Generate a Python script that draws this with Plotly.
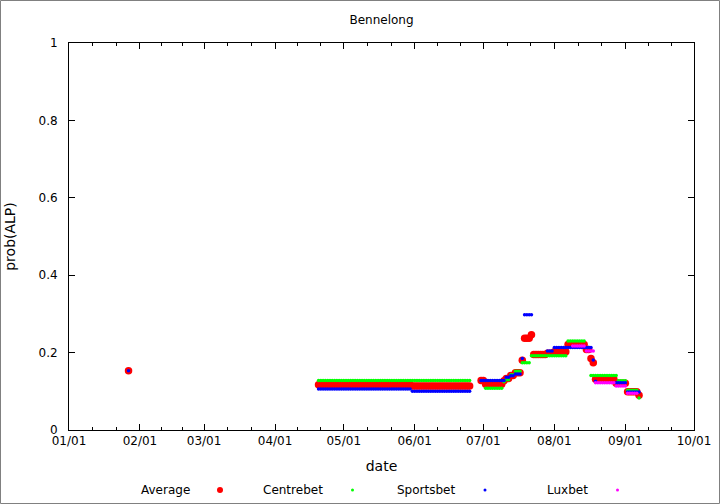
import pandas as pd
import plotly.graph_objects as go

# Series are read off the reference as runs of constant probability:
# each run is (first day, last day, prob(ALP)), one point per day
avg_start = ["2013-01-27", "2013-04-20", "2013-05-31", "2013-06-30", "2013-07-02", "2013-07-10",
             "2013-07-11", "2013-07-13", "2013-07-15", "2013-07-18", "2013-07-19", "2013-07-22",
             "2013-07-23", "2013-07-29", "2013-08-01", "2013-08-07", "2013-08-15", "2013-08-17",
             "2013-08-18", "2013-08-19", "2013-08-28", "2013-09-02", "2013-09-07"]
avg_end = ["2013-01-27", "2013-05-30", "2013-06-25", "2013-07-01", "2013-07-09", "2013-07-10",
           "2013-07-12", "2013-07-14", "2013-07-17", "2013-07-18", "2013-07-21", "2013-07-22",
           "2013-07-28", "2013-07-31", "2013-08-06", "2013-08-14", "2013-08-16", "2013-08-17",
           "2013-08-18", "2013-08-27", "2013-09-01", "2013-09-06", "2013-09-07"]
avg_prob = [0.153, 0.117, 0.114, 0.128, 0.118, 0.127,
            0.133, 0.141, 0.148, 0.180, 0.237, 0.246,
            0.195, 0.198, 0.202, 0.221, 0.208, 0.185,
            0.174, 0.131, 0.121, 0.099, 0.090]

centrebet_start = ["2013-04-20", "2013-07-02", "2013-07-10", "2013-07-11", "2013-07-13", "2013-07-15",
                   "2013-07-18", "2013-07-22", "2013-08-07", "2013-08-17", "2013-08-29", "2013-09-02",
                   "2013-09-07"]
centrebet_end = ["2013-06-25", "2013-07-09", "2013-07-10", "2013-07-12", "2013-07-14", "2013-07-17",
                 "2013-07-21", "2013-08-06", "2013-08-14", "2013-08-28", "2013-09-01", "2013-09-06",
                 "2013-09-07"]
centrebet_prob = [0.128, 0.108, 0.125, 0.130, 0.143, 0.152,
                  0.174, 0.192, 0.230, 0.141, 0.127, 0.103,
                  0.083]

sportsbet_start = ["2013-01-27", "2013-04-20", "2013-05-31", "2013-06-30", "2013-07-11", "2013-07-13",
                   "2013-07-15", "2013-07-18", "2013-07-19", "2013-07-29", "2013-08-01", "2013-08-18",
                   "2013-08-19", "2013-08-28", "2013-09-02"]
sportsbet_end = ["2013-01-27", "2013-05-30", "2013-06-25", "2013-07-10", "2013-07-12", "2013-07-14",
                 "2013-07-17", "2013-07-18", "2013-07-22", "2013-07-31", "2013-08-17", "2013-08-18",
                 "2013-08-19", "2013-09-01", "2013-09-07"]
sportsbet_prob = [0.153, 0.106, 0.100, 0.128, 0.136, 0.140,
                  0.145, 0.185, 0.298, 0.204, 0.213, 0.181,
                  0.126, 0.122, 0.098]

luxbet_start = ["2013-08-09", "2013-08-15", "2013-08-19", "2013-08-28", "2013-09-02"]
luxbet_end = ["2013-08-14", "2013-08-18", "2013-08-27", "2013-09-01", "2013-09-06"]
luxbet_prob = [0.217, 0.204, 0.122, 0.114, 0.095]

series_names = ["Average", "Centrebet", "Sportsbet", "Luxbet"]
x_ticktext = ["01/01", "02/01", "03/01", "04/01", "05/01", "06/01", "07/01", "08/01", "09/01", "10/01"]


def expand_runs(starts, ends, probs):
    dates, values = [], []
    for s, e, p in zip(starts, ends, probs):
        for d in pd.date_range(s, e, freq="D"):
            dates.append(d)
            values.append(p)
    return dates, values


runs = [(avg_start, avg_end, avg_prob),
        (centrebet_start, centrebet_end, centrebet_prob),
        (sportsbet_start, sportsbet_end, sportsbet_prob),
        (luxbet_start, luxbet_end, luxbet_prob)]
colors = ["#ff0000", "#00ff00", "#0000ff", "#ff00ff"]
sizes = [7.5, 3.5, 3.5, 3.5]

fig = go.Figure()
for name, (s, e, p), color, size in zip(series_names, runs, colors, sizes):
    dates, values = expand_runs(s, e, p)
    fig.add_trace(go.Scatter(x=dates, y=values, mode="markers", name=name,
                             marker=dict(color=color, size=size, line=dict(width=0))))

# month ticks, with gnuplot style minor ticks at thirds of each month
months = pd.date_range("2013-01-01", "2013-10-01", freq="MS")
minor_vals = []
for a, b in zip(months[:-1], months[1:]):
    step = (b - a) / 3
    minor_vals += [a + step, a + 2 * step]

font = dict(family="DejaVu Sans, sans-serif", size=12, color="black")

fig.update_xaxes(
    range=["2013-01-01", "2013-10-01"],
    tickmode="array", tickvals=list(months), ticktext=x_ticktext,
    ticks="inside", ticklen=6, tickcolor="black", tickwidth=1,
    minor=dict(tickmode="array", tickvals=minor_vals, ticks="inside", ticklen=3,
               tickcolor="black", tickwidth=1),
    showline=True, linecolor="black", linewidth=1, mirror="allticks",
    showgrid=False, zeroline=False,
    title=dict(text="date", standoff=13), tickfont=font,
)
fig.update_yaxes(
    range=[0, 1], tickvals=[0, 0.2, 0.4, 0.6, 0.8, 1],
    ticks="inside", ticklen=6, tickcolor="black", tickwidth=1, ticklabelstandoff=8,
    showline=True, linecolor="black", linewidth=1, mirror="allticks",
    showgrid=False, zeroline=False,
    title=dict(text="prob(ALP)", standoff=19), tickfont=font,
)

# gnuplot style key under the plot: label first, then the marker
L, R, T, B = 69, 26, 43, 74
W, H = 720, 504
pw, ph = W - L - R, H - T - B
key_y = (H - B - 490) / ph
for i, (name, color) in enumerate(zip(series_names, colors)):
    text_x = (192 + 132.5 * i - L) / pw
    dot_x = (220 + 132.5 * i - L) / pw
    r = 3 if i == 0 else 1.5
    fig.add_annotation(x=text_x, y=key_y, xref="paper", yref="paper", text=name,
                       showarrow=False, xanchor="right", yanchor="middle", font=font)
    fig.add_shape(type="circle", xref="paper", yref="paper",
                  x0=dot_x - r / pw, x1=dot_x + r / pw, y0=key_y - r / ph, y1=key_y + r / ph,
                  fillcolor=color, line=dict(width=0))

# grey frame round the whole picture
fig.add_shape(type="rect", xref="paper", yref="paper",
              x0=(0.5 - L) / pw, x1=(W - 0.5 - L) / pw,
              y0=(H - B - (H - 0.5)) / ph, y1=(H - B - 0.5) / ph,
              line=dict(color="#808080", width=1))

fig.update_layout(
    width=W, height=H,
    margin=dict(l=L, r=R, t=T, b=B, autoexpand=False),
    title=dict(text="Bennelong", x=(L + pw / 2) / W, xanchor="center", y=1 - 20 / H, yanchor="middle",
               font=font),
    font=font,
    showlegend=False,
    plot_bgcolor="white", paper_bgcolor="white",
)

# drop the page's default body margin so the figure sits at the window's corner
fig.write_html("out.html", config={"displayModeBar": False},
               post_script="document.body.style.margin = '0';")
